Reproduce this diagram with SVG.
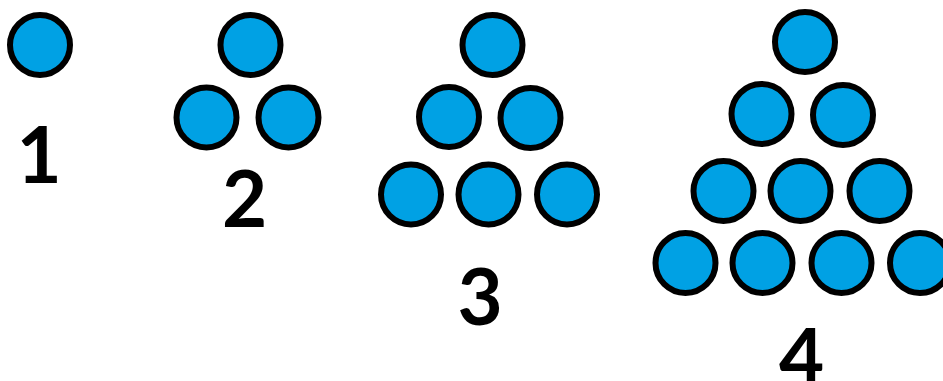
<svg xmlns="http://www.w3.org/2000/svg" width="943" height="381" viewBox="0 0 943 381">
<style>
.b{fill:#00A1E4;stroke:#000;stroke-width:6}
.n{font-family:Lato,"Liberation Sans",sans-serif;font-weight:bold;font-size:78px;fill:#000;text-anchor:middle}
</style>
<rect width="943" height="381" fill="#fff"/>
<g id="fig1">
<circle class="b" cx="40" cy="45" r="30"/>
<text class="n" x="39" y="183">1</text>
</g>
<g id="fig2">
<circle class="b" cx="250.5" cy="45" r="30"/>
<circle class="b" cx="206.5" cy="117.5" r="30"/>
<circle class="b" cx="288.5" cy="117.5" r="30"/>
<text class="n" x="244.5" y="227">2</text>
</g>
<g id="fig3">
<circle class="b" cx="492.5" cy="45" r="30"/>
<circle class="b" cx="449" cy="117" r="30"/>
<circle class="b" cx="530.5" cy="118" r="30"/>
<circle class="b" cx="411" cy="194.5" r="30"/>
<circle class="b" cx="488.5" cy="194.5" r="30"/>
<circle class="b" cx="567" cy="194.5" r="30"/>
<text class="n" x="480" y="325">3</text>
</g>
<g id="fig4">
<circle class="b" cx="805" cy="42" r="30"/>
<circle class="b" cx="761.5" cy="114" r="30"/>
<circle class="b" cx="843" cy="115" r="30"/>
<circle class="b" cx="723.5" cy="191" r="30"/>
<circle class="b" cx="800.5" cy="191" r="30"/>
<circle class="b" cx="879.5" cy="191" r="30"/>
<circle class="b" cx="685.5" cy="263" r="30"/>
<circle class="b" cx="762.5" cy="263" r="30"/>
<circle class="b" cx="841.5" cy="263" r="30"/>
<circle class="b" cx="920" cy="263" r="30"/>
<text class="n" x="801.5" y="385">4</text>
</g>
</svg>
